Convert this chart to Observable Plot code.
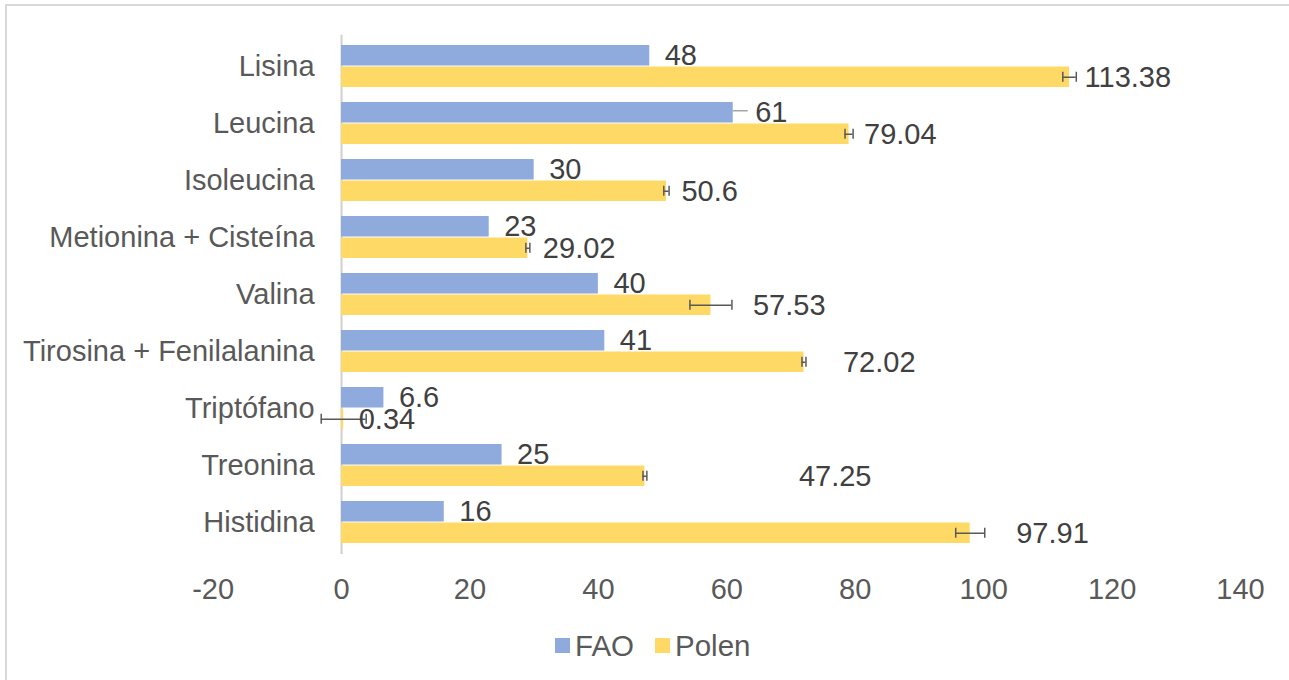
<!DOCTYPE html>
<html>
<head>
<meta charset="utf-8">
<script src="https://cdn.jsdelivr.net/npm/d3@7"></script>
<script src="https://cdn.jsdelivr.net/npm/@observablehq/plot@0.6"></script>
<style>
  html, body { margin: 0; padding: 0; background: #fff; overflow: hidden; }
  #wrap { position: relative; width: 1289px; height: 680px; overflow: hidden; font-family: "Liberation Sans", Arial, sans-serif; }
  #frame { position: absolute; left: 5px; top: 4px; width: 1320px; height: 720px; border: 2px solid #d9d9d9; box-sizing: border-box; pointer-events: none; }
  #chart { position: absolute; left: 0; top: 0; }
  #legend { position: absolute; left: 555px; top: 630px; height: 31px; display: flex; align-items: center; font-size: 29.5px; color: #595959; white-space: nowrap; }
  #legend .sw { display: inline-block; width: 15px; height: 15px; margin-right: 5px; }
  #legend .item { display: flex; align-items: center; margin-right: 21px; }
</style>
</head>
<body>
<div id="wrap">
  <div id="chart"></div>
  <div id="legend"></div>
  <div id="frame"></div>
</div>
<script>
// ---- data ----
const categories = ["Lisina", "Leucina", "Isoleucina", "Metionina + Cisteína", "Valina", "Tirosina + Fenilalanina", "Triptófano", "Treonina", "Histidina"];
const series = ["FAO", "Polen"];
const fao = [48, 61, 30, 23, 40, 41, 6.6, 25, 16];
const polen = [113.38, 79.04, 50.6, 29.02, 57.53, 72.02, 0.34, 47.25, 97.91];
const polenErr = [1.05, 0.63, 0.41, 0.31, 3.27, 0.31, 3.5, 0.3, 2.26];
const xTicks = [-20, 0, 20, 40, 60, 80, 100, 120, 140];

// ---- layout / style (not data) ----
const colors = ["#8FAADC", "#FFD966"];
const faoLabelShift = [0, 7, 0, 0, 0, 0, 0, 0, 0];       // manual label nudges, px
const polenLabelShift = [0, 0, 0, 0, 27, 24, 0, 139, 31]; // manual label nudges, px
const W = 1289, H = 615;
const mL = 212.6, mR = 49, mT = 34.65, mB = 61.05;
const pxPerUnit = (W - mL - mR) / (xTicks[xTicks.length - 1] - xTicks[0]);
const step = (H - mT - mB) / categories.length;
const bw = step * 0.745;
const half = bw / 2;
const sub = bw / 4;
const FS = 29;

const rows = categories.map((c, i) => ({
  category: c, fao: fao[i], polen: polen[i], err: polenErr[i],
  faoShift: faoLabelShift[i], polenShift: polenLabelShift[i]
}));

const faoLabels = rows.map(r => Plot.text([r], {
  x: "fao", y: "category", text: d => String(d.fao), textAnchor: "start",
  dx: 15 + r.faoShift, dy: -sub, fontSize: FS, fill: "#404040"
}));
const polenLabels = rows.map(r => Plot.text([r], {
  x: "polen", y: "category", text: d => String(d.polen), textAnchor: "start",
  dx: 15 + r.polenShift, dy: sub, fontSize: FS, fill: "#404040"
}));

const capH = 11;
const chart = Plot.plot({
  width: W, height: H,
  marginLeft: mL, marginRight: mR, marginTop: mT, marginBottom: mB,
  style: { fontFamily: "'Liberation Sans', Arial, sans-serif", background: "transparent" },
  x: { domain: [xTicks[0], xTicks[xTicks.length - 1]] },
  y: { domain: categories, paddingInner: 0.255, paddingOuter: 0.1275, axis: null },
  marks: [
    Plot.ruleX([0], { stroke: "#d0d0d0", strokeWidth: 2 }),
    Plot.barX(rows, { y: "category", x1: 0, x2: "fao", fill: colors[0], insetBottom: half }),
    Plot.barX(rows, { y: "category", x1: 0, x2: "polen", fill: colors[1], insetTop: half }),
    Plot.ruleY(rows, { y: "category", x1: d => d.polen - d.err, x2: d => d.polen + d.err, dy: sub, stroke: "#595959", strokeWidth: 1.5 }),
    Plot.tickX(rows, { y: "category", x: d => d.polen - d.err, insetTop: bw * 0.75 - capH / 2, insetBottom: bw * 0.25 - capH / 2, stroke: "#595959", strokeWidth: 1.5 }),
    Plot.tickX(rows, { y: "category", x: d => d.polen + d.err, insetTop: bw * 0.75 - capH / 2, insetBottom: bw * 0.25 - capH / 2, stroke: "#595959", strokeWidth: 1.5 }),
    Plot.ruleY(rows.filter(d => d.faoShift > 0), { y: "category", x1: "fao", x2: d => d.fao + (d.faoShift + 8) / pxPerUnit, dy: -sub - 2, stroke: "#a6a6a6", strokeWidth: 1.5 }),
    ...faoLabels,
    ...polenLabels,
    Plot.text(rows, { x: () => 0, y: "category", text: "category", textAnchor: "end", dx: -27, fontSize: FS, fill: "#595959" }),
    Plot.axisX({ ticks: xTicks, tickFormat: d => String(d), tickSize: 0, tickPadding: 24, fontSize: FS, color: "#595959", label: null })
  ]
});
document.getElementById("chart").appendChild(chart);

const legend = document.getElementById("legend");
series.forEach((s, i) => {
  const item = document.createElement("span");
  item.className = "item";
  const sw = document.createElement("span");
  sw.className = "sw";
  sw.style.background = colors[i];
  const t = document.createElement("span");
  t.textContent = s;
  item.appendChild(sw);
  item.appendChild(t);
  legend.appendChild(item);
});
</script>
</body>
</html>
